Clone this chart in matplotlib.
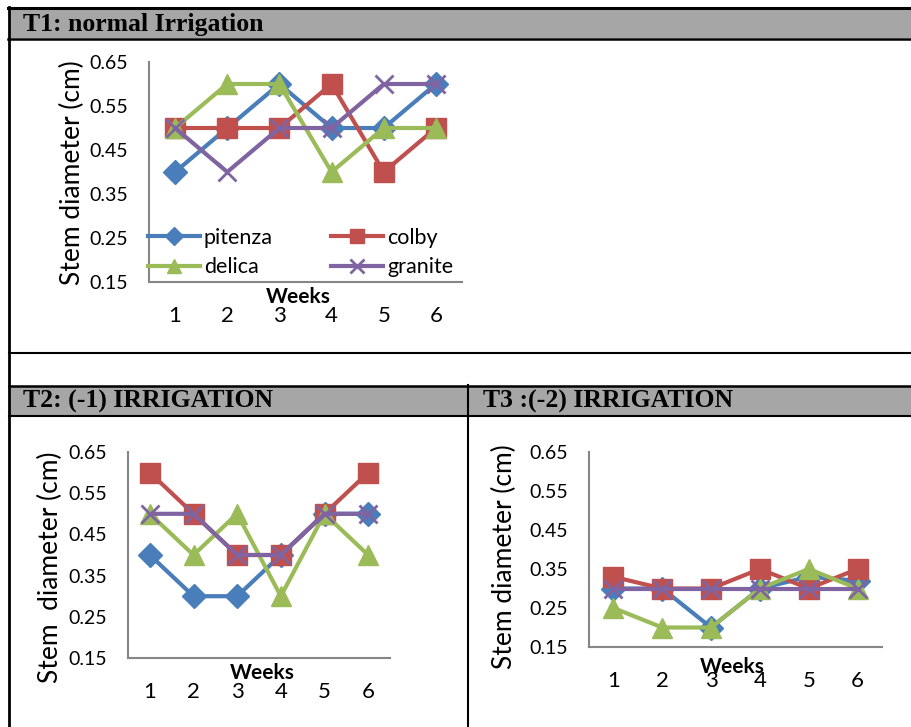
import numpy as np
import matplotlib.pyplot as plt
from matplotlib.lines import Line2D
from matplotlib.patches import Rectangle

weeks = [1, 2, 3, 4, 5, 6]
varietes = ["pitenza", "colby", "delica", "granite"]

t1_pitenza = [0.40, 0.50, 0.60, 0.50, 0.50, 0.60]
t1_colby = [0.50, 0.50, 0.50, 0.60, 0.40, 0.50]
t1_delica = [0.50, 0.60, 0.60, 0.40, 0.50, 0.50]
t1_granite = [0.50, 0.40, 0.50, 0.50, 0.60, 0.60]

t2_pitenza = [0.40, 0.30, 0.30, 0.40, 0.50, 0.50]
t2_colby = [0.60, 0.50, 0.40, 0.40, 0.50, 0.60]
t2_delica = [0.50, 0.40, 0.50, 0.30, 0.50, 0.40]
t2_granite = [0.50, 0.50, 0.40, 0.40, 0.50, 0.50]

t3_pitenza = [0.30, 0.30, 0.20, 0.30, 0.33, 0.32]
t3_colby = [0.33, 0.30, 0.30, 0.35, 0.30, 0.35]
t3_delica = [0.25, 0.20, 0.20, 0.30, 0.35, 0.30]
t3_granite = [0.30, 0.30, 0.30, 0.30, 0.30, 0.30]

yticks = [0.15, 0.25, 0.35, 0.45, 0.55, 0.65]

couleurs = ["#4A7EBB", "#C0504D", "#9BBB59", "#8064A2"]
marqueurs = ["D", "s", "^", "x"]
tailles = [12, 14, 14, 13]

W, H = 911, 727
fig = plt.figure(figsize=(W / 100, H / 100), dpi=100)
plt.rcParams['font.family'] = ['Lato', 'DejaVu Sans']


def fx(x):
    return x / W


def fy(y):
    return 1 - y / H


def trait(x0, y0, x1, y1, lw=1.5):
    fig.add_artist(Line2D([fx(x0), fx(x1)], [fy(y0), fy(y1)], color="black", lw=lw,
                          transform=fig.transFigure))


def bandeau(x0, x1, y0, y1):
    fig.add_artist(Rectangle((fx(x0), fy(y1)), fx(x1) - fx(x0), fy(y0) - fy(y1),
                             facecolor="#A6A6A6", edgecolor="none", transform=fig.transFigure))


# tableau
bandeau(9, W, 8, 38)
bandeau(9, W, 386, 416)
trait(8, 7.5, W, 7.5, 2.2)
trait(8, 38.5, W, 38.5, 1.8)
trait(9, 353.5, W, 353.5, 1.5)
trait(9, 385.5, W, 385.5, 1.8)
trait(9, 416, W, 416, 1.5)
trait(9, 6.5, 9, H, 2.0)
trait(468, 385, 468, H, 1.5)

titre = dict(family="Liberation Serif", weight="bold", fontsize=18.5, va="center", ha="left")
fig.text(fx(23), fy(24), "T1: normal Irrigation", **titre)
fig.text(fx(23), fy(401), "T2: (-1) IRRIGATION", **titre)
fig.text(fx(483), fy(401), "T3 :(-2) IRRIGATION", **titre)


def graphe(left, right, top, bottom, series, ylabel, ylab_x, ylab_y, weeks_x, weeks_y):
    ax = fig.add_axes([fx(left), fy(bottom), fx(right) - fx(left), fy(top) - fy(bottom)])
    for vals, c, m, ms, nom in zip(series, couleurs, marqueurs, tailles, varietes):
        ax.plot(weeks, vals, color=c, lw=3, marker=m, markersize=ms,
                markeredgewidth=2 if m == "x" else 1, markeredgecolor=c, label=nom)
    ax.set_xlim(0.5, 6.5)
    ax.set_ylim(0.15, 0.65)
    ax.set_yticks(yticks)
    ax.set_yticklabels(["%.2f" % v for v in yticks], fontsize=14)
    ax.set_xticks(weeks)
    ax.set_xticklabels([str(w) for w in weeks], fontsize=16)
    ax.tick_params(axis="y", length=0, pad=15)
    ax.tick_params(axis="x", length=0, pad=17)
    for s in ["top", "right"]:
        ax.spines[s].set_visible(False)
    for s in ["left", "bottom"]:
        ax.spines[s].set_color("#868686")
        ax.spines[s].set_linewidth(1.5)
    ax.patch.set_alpha(0)
    fig.text(fx(ylab_x), fy(ylab_y), ylabel, rotation=90, fontsize=19, ha="center", va="center")
    fig.text(fx(weeks_x), fy(weeks_y), "Weeks", fontsize=15, weight="bold", ha="center", va="center")
    return ax


ax1 = graphe(149, 462, 62, 282, [t1_pitenza, t1_colby, t1_delica, t1_granite],
             "Stem diameter (cm)", 72, 173, 298, 297)
h, l = ax1.get_legend_handles_labels()
ordre = [0, 2, 1, 3]
ax1.legend([h[i] for i in ordre], [l[i] for i in ordre], ncol=2, loc="upper left",
           bbox_to_anchor=(fx(148), fy(228)), bbox_transform=fig.transFigure,
           frameon=False, fontsize=15.5, borderpad=0, borderaxespad=0, handlelength=2.4,
           handletextpad=0.2, columnspacing=2.7, labelspacing=0.42, markerscale=0.75)

graphe(128, 390, 452, 658, [t2_pitenza, t2_colby, t2_delica, t2_granite],
       "Stem  diameter (cm)", 50, 567, 262, 673)

graphe(589, 882, 452, 647, [t3_pitenza, t3_colby, t3_delica, t3_granite],
       "Stem diameter (cm)", 504, 557, 732, 667)

fig.savefig("out.png", dpi=100)
